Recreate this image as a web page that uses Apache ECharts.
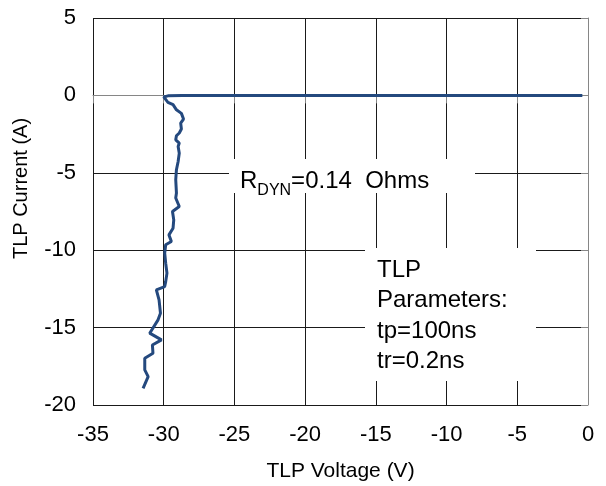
<!DOCTYPE html>
<html>
<head>
<meta charset="utf-8">
<script src="https://cdn.jsdelivr.net/npm/echarts@6/dist/echarts.min.js"></script>
<style>html,body{margin:0;padding:0;background:#fff}#c{width:606px;height:486px}</style>
</head>
<body>
<div id="c"></div>
<script>
// TLP measurement (voltage in V, current in A)
const voltage = [-0.4, -5, -10, -15, -20, -25, -28.7, -29.7, -30.0,
  -29.7, -29.34, -29.1, -28.75, -28.6, -28.8, -28.75, -28.9, -29.1, -29.15,
  -28.9, -28.98, -28.9, -28.98, -29.1, -29.15, -29.1, -29.15, -28.9, -29.38,
  -29.29, -29.34, -29.63, -29.46, -29.86, -29.93, -29.86, -29.77, -29.86, -29.93,
  -30.52, -30.33, -30.23, -30.4, -30.99, -30.16, -30.8, -30.76, -31.34, -31.34,
  -31.1, -31.46];
const current = [0, 0, 0, 0, 0, 0, 0, -0.03, -0.1,
  -0.45, -0.6, -0.93, -1.16, -1.53, -1.79, -2.17, -2.43, -2.61, -2.87,
  -3.08, -3.3, -3.73, -4.27, -4.8, -5.45, -6.31, -6.63, -7.18, -7.5,
  -8.04, -8.58, -9.01, -9.44, -9.65, -10.19, -10.84, -11.48, -12.03, -12.35,
  -12.56, -13.21, -14.07, -14.5, -15.36, -15.79, -16.12, -16.66, -16.98, -17.73,
  -18.17, -18.92];
const xTicks = [-35, -30, -25, -20, -15, -10, -5, 0];
const yTicks = [-20, -15, -10, -5, 0, 5];
const xName = 'TLP Voltage (V)';
const yName = 'TLP Current (A)';
const noteRdyn = ['R', 'DYN', '=0.14  Ohms'];
const noteParams = ['TLP', 'Parameters:', 'tp=100ns', 'tr=0.2ns'];

const FONT = "'Liberation Sans', Arial, Helvetica, sans-serif";
const pairs = voltage.map((v, i) => [v, current[i]]);

const chart = echarts.init(document.getElementById('c'));
chart.setOption({
  animation: false,
  backgroundColor: '#fff',
  grid: { left: 93, right: 18, top: 18, bottom: 81, containLabel: false, outerBoundsMode: 'none' },
  xAxis: {
    type: 'value',
    min: xTicks[0], max: xTicks[xTicks.length - 1], interval: 5,
    name: xName, nameLocation: 'middle', nameGap: 56,
    nameTextStyle: { color: '#000', fontSize: 21, fontFamily: FONT },
    axisLine: { show: true, lineStyle: { color: '#868686', width: 1 } },
    axisTick: { show: true, inside: false, length: 8, lineStyle: { color: '#868686' } },
    axisLabel: { color: '#000', fontSize: 22, fontFamily: FONT, margin: 19 },
    splitLine: { show: true, lineStyle: { color: '#1a1a1a', width: 1 } }
  },
  yAxis: {
    type: 'value',
    min: yTicks[0], max: yTicks[yTicks.length - 1], interval: 5,
    name: yName, nameLocation: 'middle', nameGap: 62,
    nameTextStyle: { color: '#000', fontSize: 20, fontFamily: FONT, padding: [0, 0, 0, 46] },
    axisLine: { show: true, lineStyle: { color: '#868686', width: 1 } },
    axisTick: { show: true, inside: false, length: 7, lineStyle: { color: '#868686' } },
    axisLabel: { color: '#000', fontSize: 22, fontFamily: FONT, margin: 17 },
    splitLine: { show: true, lineStyle: { color: '#1a1a1a', width: 1 } }
  },
  series: [{
    type: 'line',
    data: pairs,
    showSymbol: false,
    symbol: 'none',
    smooth: false,
    lineStyle: { color: '#24497e', width: 3 },
    z: 3
  }],
  graphic: [
    { type: 'rect', shape: { x: 229, y: 159, width: 246, height: 34 }, style: { fill: '#fff' }, z: 10 },
    { type: 'text', x: 240, y: 181, z: 11,
      style: {
        text: '{a|' + noteRdyn[0] + '}{s|' + noteRdyn[1] + '}{a|' + noteRdyn[2] + '}',
        verticalAlign: 'middle', align: 'left',
        rich: {
          a: { fontSize: 24, fontFamily: FONT, fill: '#000', lineHeight: 36 },
          s: { fontSize: 16, fontFamily: FONT, fill: '#000', lineHeight: 16, verticalAlign: 'bottom' }
        }
      }
    },
    { type: 'rect', shape: { x: 365, y: 248, width: 171, height: 133 }, style: { fill: '#fff' }, z: 10 },
    { type: 'text', x: 377, y: 255, z: 11,
      style: {
        text: noteParams.join('\n'),
        fontSize: 24, fontFamily: FONT, fill: '#000', lineHeight: 30.5,
        verticalAlign: 'top', align: 'left'
      }
    }
  ]
});
</script>
</body>
</html>
